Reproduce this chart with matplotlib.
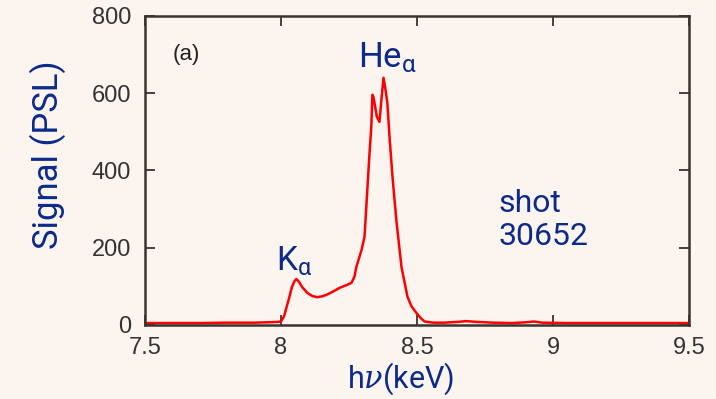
import matplotlib
matplotlib.use("Agg")
import matplotlib.pyplot as plt

energy = [7.50, 7.60, 7.70, 7.80, 7.90, 7.95, 7.99, 8.000, 8.011, 8.020, 8.030, 8.040, 8.050, 8.056,
          8.065, 8.078, 8.097, 8.115, 8.133, 8.150, 8.167, 8.190, 8.215, 8.240, 8.259, 8.270,
          8.277, 8.290, 8.296, 8.307, 8.318, 8.325, 8.332, 8.336, 8.340, 8.345, 8.352, 8.362,
          8.370, 8.377, 8.384, 8.391, 8.399, 8.410, 8.424, 8.443, 8.465, 8.480, 8.498, 8.515,
          8.528, 8.560, 8.600, 8.650, 8.680, 8.720, 8.780, 8.850, 8.900, 8.930, 8.960, 9.050,
          9.200, 9.350, 9.500]
signal = [5, 5, 5, 6, 6, 7, 8, 9, 22, 45, 70, 98, 114, 119,
          113, 98, 83, 75, 72, 74, 78, 86, 96, 103, 109, 125,
          150, 180, 194, 228, 357, 440, 513, 596, 590, 570, 540, 526,
          590, 640, 610, 575, 487, 383, 272, 150, 73, 48, 31, 17,
          9, 6, 6, 8, 10, 8, 6, 5, 7, 9, 6, 5,
          5, 5, 5]

xticks = [7.5, 8, 8.5, 9, 9.5]
xticklabels = ["7.5", "8", "8.5", "9", "9.5"]
yticks = [0, 200, 400, 600, 800]
yticklabels = ["0", "200", "400", "600", "800"]

bg = "#fcf4ef"
blue = "#0b2a8a"
dark = "#3a3330"

plt.rcParams["mathtext.fontset"] = "custom"
plt.rcParams["mathtext.rm"] = "Roboto"
plt.rcParams["mathtext.it"] = "DejaVu Serif:italic"
fig = plt.figure(figsize=(7.16, 3.99), dpi=100, facecolor=bg)
ax = fig.add_axes([0.2025, 0.1855, 0.7598, 0.7744], facecolor=bg)

ax.plot(energy, signal, color="#ff0000", lw=1.8)
ax.set_xlim(7.5, 9.5)
ax.set_ylim(0, 800)
ax.set_xticks(xticks)
ax.set_xticklabels(xticklabels)
ax.set_yticks(yticks)
ax.set_yticklabels(yticklabels)
ax.tick_params(direction="in", length=7, width=1.3, color=dark, top=True, right=True,
               labelsize=17, labelcolor="#333333")
ax.tick_params(axis="x", pad=9)
ax.tick_params(axis="y", pad=10)
for lab in ax.get_xticklabels() + ax.get_yticklabels():
    lab.set_family("Liberation Sans")
for s in ax.spines.values():
    s.set_color(dark)
    s.set_linewidth(1.8)

ax.set_ylabel("Signal (PSL)", fontsize=25, color=blue, family="Roboto")
ax.yaxis.set_label_coords(-0.145, 0.55)
ax.set_xlabel(r"h$\nu$(keV)", fontsize=22, color=blue, family="Roboto")
ax.xaxis.set_label_coords(0.47, -0.115)

ax.text(0.051, 0.875, "(a)", transform=ax.transAxes, fontsize=16, color="#222222",
        family="Liberation Sans", va="center")
ax.text(8.39, 668, r"He$_\mathrm{\alpha}$", fontsize=25, color=blue, family="Roboto",
        ha="center", va="baseline")
ax.text(8.05, 142, r"K$_\mathrm{\alpha}$", fontsize=24, color=blue, family="Roboto",
        ha="center", va="baseline")
ax.text(8.80, 272, "shot\n30652", fontsize=23, color=blue, family="Roboto", ha="left",
        va="center", linespacing=1.15)

fig.savefig("out.png", dpi=100, facecolor=bg)
